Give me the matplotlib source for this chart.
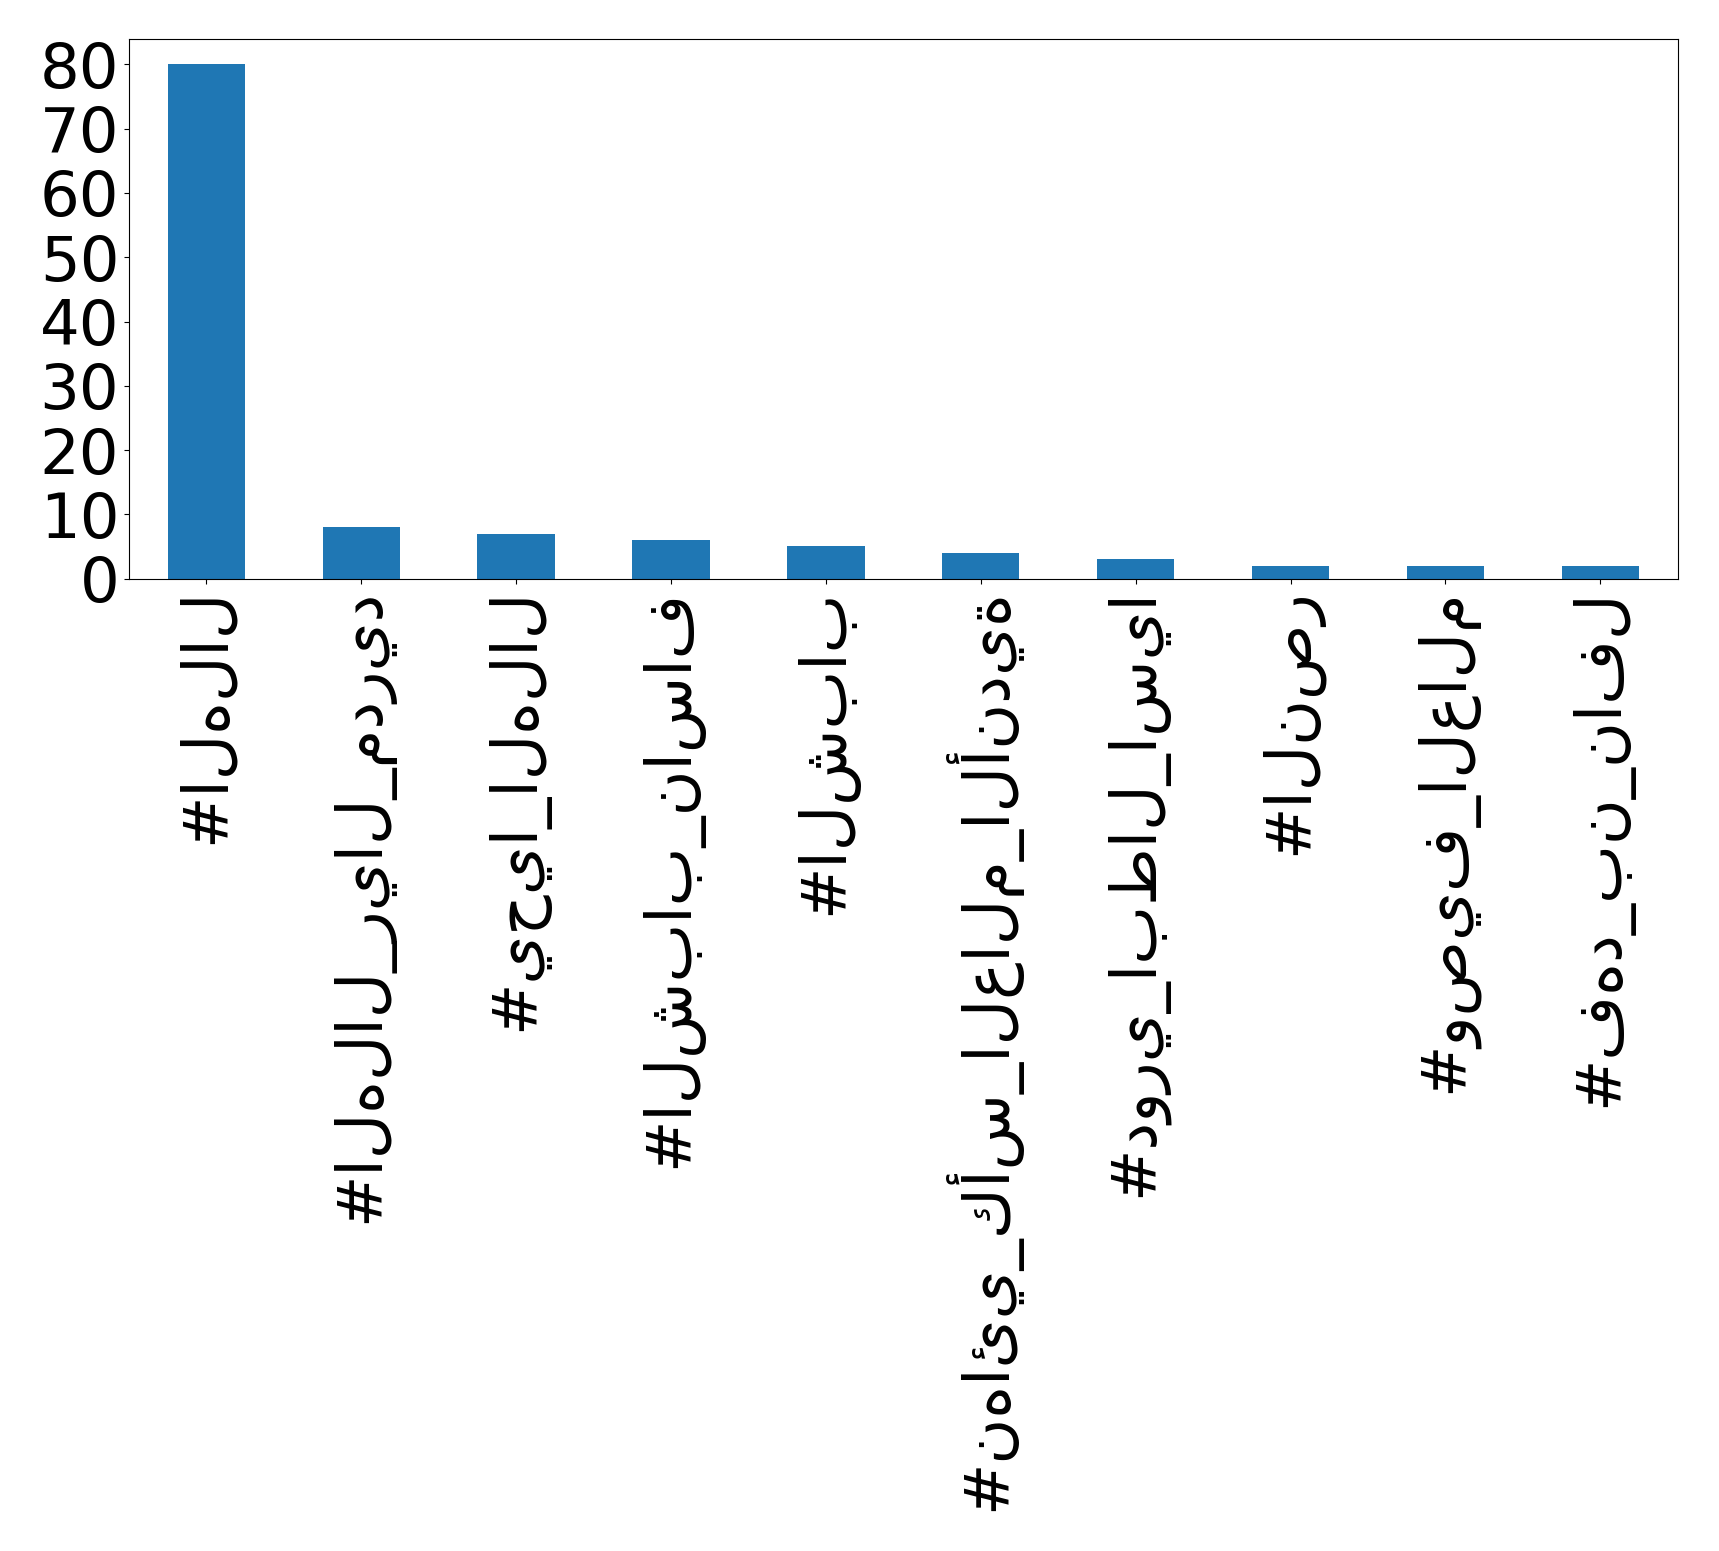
import matplotlib
matplotlib.use("Agg")
import matplotlib.pyplot as plt
import numpy as np

hashtags = [
    "#الهلال",
    "#الهلال_ريال_مدريد",
    "#يحيا_الهلال",
    "#الشباب_ناساف",
    "#الشباب",
    "#نهائي_كأس_العالم_الأندية",
    "#دوري_ابطال_اسيا",
    "#النصر",
    "#وصيف_العالم",
    "#فهد_بن_نافل",
]
counts = [80, 8, 7, 6, 5, 4, 3, 2, 2, 2]


def main():
    plt.rcParams["font.family"] = ["DejaVu Sans"]

    fig, ax = plt.subplots(figsize=(17.19, 15.51), dpi=100)
    fig.subplots_adjust(left=0.075, right=0.976, top=0.975, bottom=0.627)

    x = np.arange(len(hashtags))
    ax.bar(x, counts, width=0.5, color="#1f77b4")
    ax.set_xlim(-0.5, len(hashtags) - 0.5)
    ax.set_ylim(0, 84)
    ax.set_yticks(range(0, 81, 10))
    ax.set_xticks(x)
    ax.set_xticklabels(hashtags, rotation=90, fontsize=45)
    ax.tick_params(axis="y", labelsize=45)

    fig.savefig("out.png", dpi=100)
    plt.close(fig)


if __name__ == "__main__":
    main()
